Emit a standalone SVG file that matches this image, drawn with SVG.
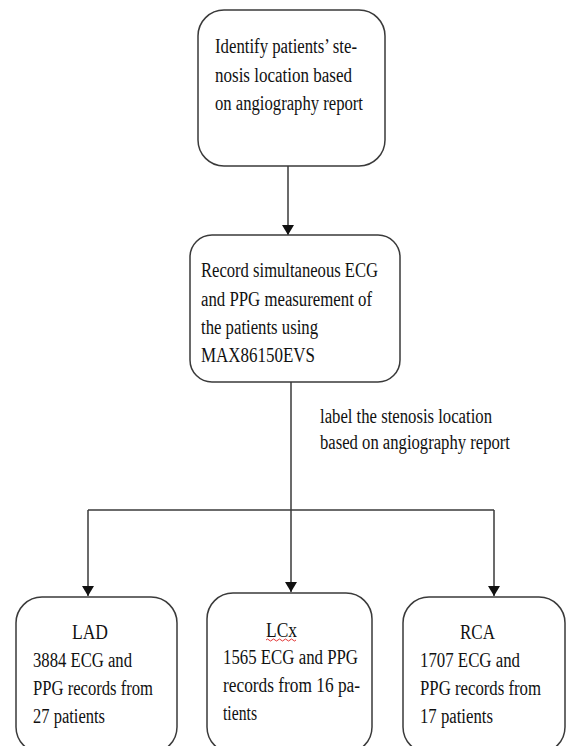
<svg xmlns="http://www.w3.org/2000/svg" width="567" height="746" viewBox="0 0 567 746">
<style>
.box{fill:#fff;stroke:#3a3a3a;stroke-width:1.5}
.t{font-family:"Liberation Serif","Times New Roman",serif;font-size:20px;fill:#111}
.c{fill:none;stroke:#3a3a3a;stroke-width:1.5}
</style>
<defs>
<marker id="ah" viewBox="0 0 10 12" refX="10" refY="6" markerWidth="10" markerHeight="12" markerUnits="userSpaceOnUse" orient="auto">
<path d="M0,0 L10,6 L0,12 Z" fill="#111"/>
</marker>
</defs>
<g id="connectors">
<line class="c" x1="288" y1="166" x2="288" y2="235" marker-end="url(#ah)"/>
<line class="c" x1="291" y1="382" x2="291" y2="510"/>
<line class="c" x1="88" y1="510" x2="494" y2="510"/>
<line class="c" x1="88" y1="510" x2="88" y2="596" marker-end="url(#ah)"/>
<line class="c" x1="291" y1="510" x2="291" y2="592" marker-end="url(#ah)"/>
<line class="c" x1="494" y1="510" x2="494" y2="596" marker-end="url(#ah)"/>
<text class="t" x="320" y="423" textLength="172" lengthAdjust="spacingAndGlyphs">label the stenosis location</text>
<text class="t" x="320" y="449" textLength="190" lengthAdjust="spacingAndGlyphs">based on angiography report</text>
</g>
<g id="n1">
<rect class="box" x="198" y="10" width="187" height="156" rx="26"/>
<text class="t" x="215" y="53" textLength="142" lengthAdjust="spacingAndGlyphs">Identify patients’ ste-</text>
<text class="t" x="215" y="82" textLength="137" lengthAdjust="spacingAndGlyphs">nosis location based</text>
<text class="t" x="215" y="110" textLength="148" lengthAdjust="spacingAndGlyphs">on angiography report</text>
</g>
<g id="n2">
<rect class="box" x="190" y="235" width="210" height="147" rx="22"/>
<text class="t" x="201" y="277" textLength="177" lengthAdjust="spacingAndGlyphs">Record simultaneous ECG</text>
<text class="t" x="201" y="306" textLength="171" lengthAdjust="spacingAndGlyphs">and PPG measurement of</text>
<text class="t" x="201" y="334" textLength="117" lengthAdjust="spacingAndGlyphs">the patients using</text>
<text class="t" x="201" y="362" textLength="114" lengthAdjust="spacingAndGlyphs">MAX86150EVS</text>
</g>
<g id="n3">
<rect class="box" x="16" y="597" width="161" height="156" rx="26"/>
<text class="t" x="72" y="639" textLength="36" lengthAdjust="spacingAndGlyphs">LAD</text>
<text class="t" x="33" y="667" textLength="99" lengthAdjust="spacingAndGlyphs">3884 ECG and</text>
<text class="t" x="33" y="695" textLength="120" lengthAdjust="spacingAndGlyphs">PPG records from</text>
<text class="t" x="33" y="723" textLength="72" lengthAdjust="spacingAndGlyphs">27 patients</text>
</g>
<g id="n4">
<rect class="box" x="207" y="593" width="165" height="160" rx="26"/>
<text class="t" x="266" y="637" textLength="31" lengthAdjust="spacingAndGlyphs">LCx</text>
<path d="M266,640 q1.5,-2 3,0 t3,0 t3,0 t3,0 t3,0 t3,0 t3,0 t3,0 t3,0 t3,0" fill="none" stroke="#e02020" stroke-width="0.9"/>
<text class="t" x="223" y="664" textLength="135" lengthAdjust="spacingAndGlyphs">1565 ECG and PPG</text>
<text class="t" x="223" y="692" textLength="137" lengthAdjust="spacingAndGlyphs">records from 16 pa-</text>
<text class="t" x="223" y="720" textLength="34" lengthAdjust="spacingAndGlyphs">tients</text>
</g>
<g id="n5">
<rect class="box" x="403" y="597" width="162" height="156" rx="26"/>
<text class="t" x="460" y="639" textLength="35" lengthAdjust="spacingAndGlyphs">RCA</text>
<text class="t" x="420" y="667" textLength="100" lengthAdjust="spacingAndGlyphs">1707 ECG and</text>
<text class="t" x="420" y="695" textLength="121" lengthAdjust="spacingAndGlyphs">PPG records from</text>
<text class="t" x="420" y="723" textLength="73" lengthAdjust="spacingAndGlyphs">17 patients</text>
</g>
</svg>
